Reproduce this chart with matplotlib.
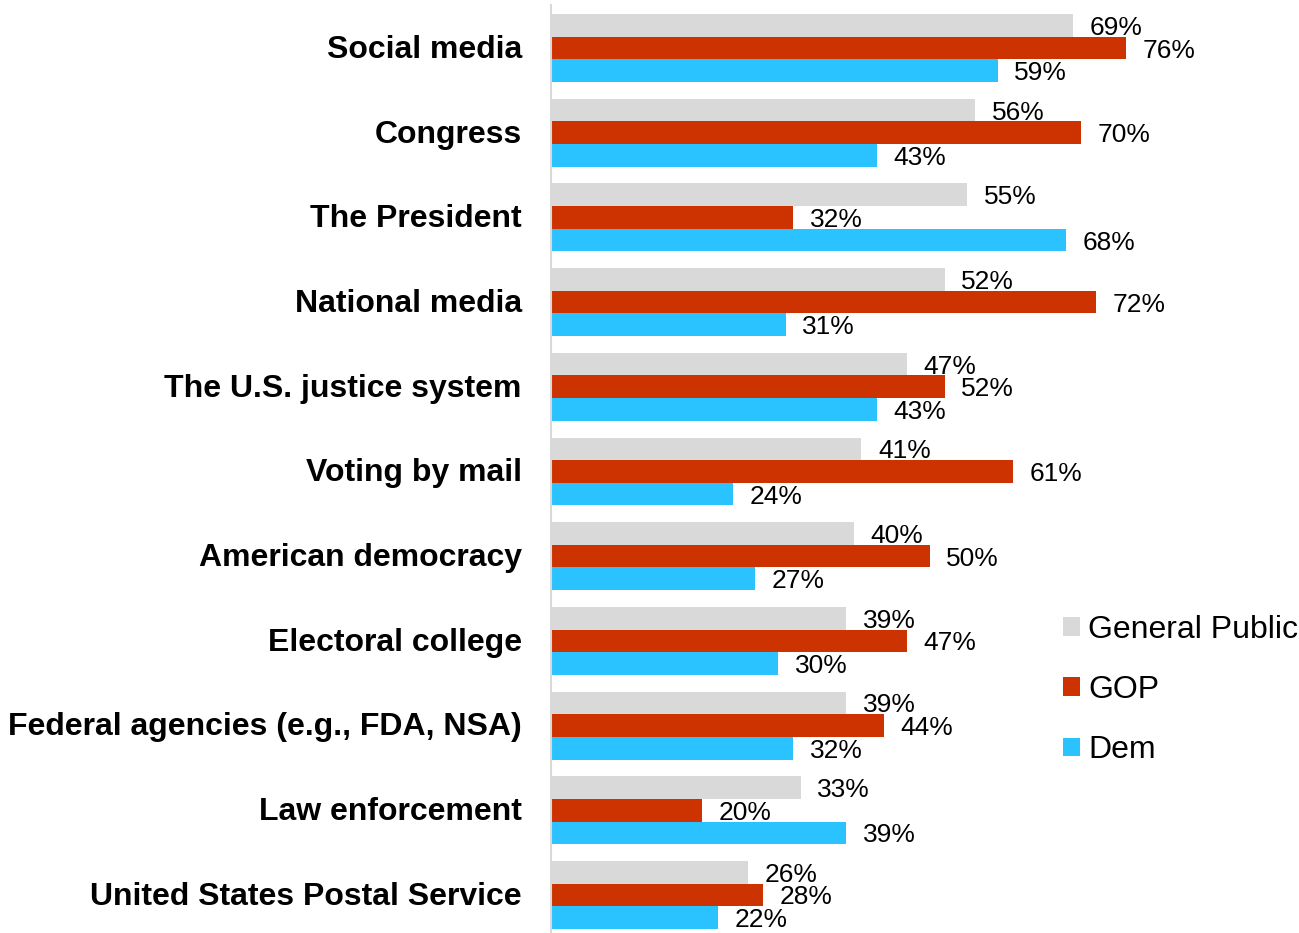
#!/usr/bin/env python3
"""Grouped horizontal bars: general public vs GOP vs Dem, by institution."""

import matplotlib

matplotlib.use("Agg")
import matplotlib.pyplot as plt
from matplotlib.patches import Patch
import numpy as np

plt.rcParams["font.family"] = ["Liberation Sans", "DejaVu Sans"]

CATEGORIES = [
    "Social media",
    "Congress",
    "The President",
    "National media",
    "The U.S. justice system",
    "Voting by mail",
    "American democracy",
    "Electoral college",
    "Federal agencies (e.g., FDA, NSA)",
    "Law enforcement",
    "United States Postal Service",
]
GENERAL_PUBLIC = [69, 56, 55, 52, 47, 41, 40, 39, 39, 33, 26]
GOP = [76, 70, 32, 72, 52, 61, 50, 47, 44, 20, 28]
DEM = [59, 43, 68, 31, 43, 24, 27, 30, 32, 39, 22]

SERIES = [
    ("General Public", GENERAL_PUBLIC, "#D9D9D9"),
    ("GOP", GOP, "#CC3300"),
    ("Dem", DEM, "#2BC3FF"),
]


def main() -> None:
    W, H = 1299, 933
    fig = plt.figure(figsize=(W / 100, H / 100), dpi=100)
    ax = fig.add_axes([551 / W, 0, (W - 551) / W, 928 / H])

    y = np.arange(len(CATEGORIES))
    h = 0.267
    for k, (name, vals, color) in enumerate(SERIES):
        pos = y + (k - 1) * h
        ax.barh(pos, vals, height=h, color=color, label=name)
        for p, v in zip(pos, vals):
            ax.annotate(f"{v}%", (v, p), xytext=(12, 0), textcoords="offset points",
                        va="center_baseline", ha="left", fontsize=19, color="#000000")

    ax.set_xlim(0, (W - 551) / 7.57)
    ax.set_ylim(10.449, -0.508)
    # category labels as real tick labels, nudged up a touch to match the reference
    ax.set_yticks(y - 0.02)
    ax.set_yticklabels(CATEGORIES, fontsize=23, fontweight="bold")
    ax.tick_params(axis="y", length=0, pad=21)
    ax.set_xticks([])
    for side in ("top", "right", "bottom"):
        ax.spines[side].set_visible(False)
    ax.spines["left"].set_color("#D9D9D9")
    ax.spines["left"].set_linewidth(1.5)

    handles = [Patch(facecolor=c, edgecolor="none") for _, _, c in SERIES]
    fig.legend(handles, [n for n, _, _ in SERIES], loc="center left",
               bbox_to_anchor=(1063 / W, 1 - 690 / H), bbox_transform=fig.transFigure,
               frameon=False, fontsize=23, handlelength=0.52, handleheight=0.52,
               handletextpad=0.26, labelspacing=0.95, borderpad=0, borderaxespad=0)

    fig.savefig("out.png", dpi=100)


if __name__ == "__main__":
    main()
